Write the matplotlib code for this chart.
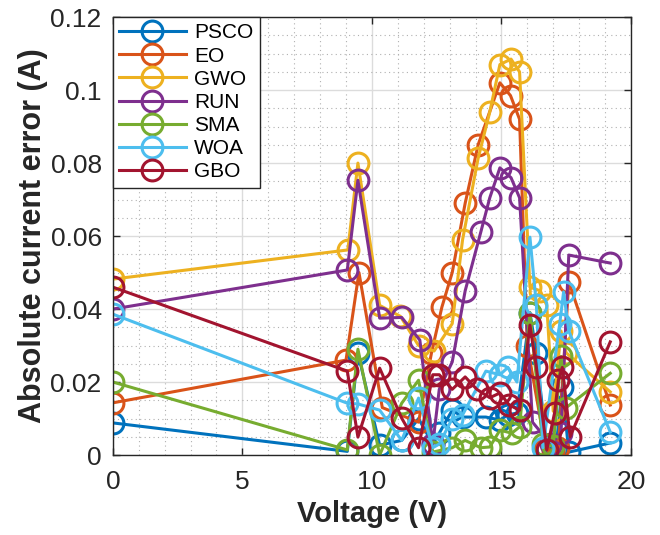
import matplotlib.pyplot as plt
from matplotlib.ticker import MultipleLocator, FuncFormatter

plt.rcParams['font.family'] = ['Liberation Sans', 'DejaVu Sans']

names = ["PSCO", "EO", "GWO", "RUN", "SMA", "WOA", "GBO"]
colors = ["#0072BD", "#D95319", "#EDB120", "#7E2F8E", "#77AC30", "#4DBEEE", "#A2142F"]

psco_v = [0, 9.05, 9.46, 10.3, 11.15, 11.8, 12.35, 12.6, 13.1, 13.5, 14.4, 14.94, 15.25, 15.6, 16.1, 16.35, 16.75, 17.1, 17.35, 17.6, 19.2]
psco_e = [0.0088, 0.001, 0.028, 0.0027, 0.004, 0.010, 0.003, 0.006, 0.0123, 0.0104, 0.0104, 0.0096, 0.011, 0.0115, 0.039, 0.028, 0.002, 0.0015, 0.0186, 0.0008, 0.0033]

eo_v = [0, 9.0, 9.5, 10.4, 11.8, 12.3, 12.7, 13.1, 13.6, 14.1, 14.94, 15.35, 15.7, 16.0, 16.7, 17.0, 17.2, 17.6, 19.2]
eo_e = [0.0143, 0.026, 0.050, 0.013, 0.009, 0.028, 0.0405, 0.050, 0.069, 0.085, 0.102, 0.0985, 0.092, 0.030, 0.002, 0.001, 0.002, 0.0475, 0.0137]

gwo_v = [0, 9.07, 9.46, 10.3, 11.1, 11.8, 12.4, 13.1, 13.5, 14.1, 14.55, 14.94, 15.37, 15.7, 16.1, 16.5, 16.75, 17.0, 17.3, 17.5, 19.2]
gwo_e = [0.0482, 0.0562, 0.080, 0.041, 0.038, 0.030, 0.0285, 0.036, 0.059, 0.0813, 0.094, 0.107, 0.1085, 0.105, 0.046, 0.045, 0.041, 0.012, 0.034, 0.028, 0.0173]

run_v = [0, 9.05, 9.46, 10.3, 11.15, 11.85, 12.35, 12.6, 13.1, 13.6, 14.2, 14.55, 14.94, 15.37, 15.7, 16.2, 16.9, 17.3, 17.6, 19.2]
run_e = [0.040, 0.0507, 0.0753, 0.0375, 0.0377, 0.0315, 0.003, 0.018, 0.0255, 0.045, 0.061, 0.0705, 0.0787, 0.076, 0.0705, 0.009, 0.003, 0.006, 0.0548, 0.0526]

sma_v = [0, 9.05, 9.46, 10.3, 11.15, 11.8, 12.35, 13.1, 13.6, 14.2, 14.55, 14.94, 15.4, 15.7, 16.1, 16.6, 17.0, 17.3, 17.5, 19.2]
sma_e = [0.020, 0.0014, 0.029, 0.000, 0.0142, 0.0205, 0.0008, 0.002, 0.004, 0.002, 0.0022, 0.0068, 0.006, 0.0077, 0.039, 0.003, 0.0025, 0.027, 0.013, 0.0224]

woa_v = [0, 9.05, 9.46, 10.3, 11.15, 11.8, 12.35, 12.6, 13.1, 13.5, 14.4, 14.94, 15.25, 15.6, 16.1, 16.35, 16.6, 17.25, 17.4, 17.6, 19.2]
woa_e = [0.0386, 0.0142, 0.014, 0.0123, 0.004, 0.0156, 0.002, 0.003, 0.010, 0.011, 0.023, 0.022, 0.024, 0.020, 0.0597, 0.041, 0.002, 0.036, 0.0447, 0.034, 0.0063]

gbo_v = [0, 9.05, 9.46, 10.3, 11.15, 11.8, 12.35, 12.6, 13.1, 13.6, 14.05, 14.55, 14.94, 15.3, 15.7, 16.1, 16.35, 16.75, 17.05, 17.2, 17.35, 17.65, 19.2]
gbo_e = [0.046, 0.023, 0.0049, 0.0238, 0.0101, 0.002, 0.022, 0.022, 0.018, 0.0214, 0.018, 0.0157, 0.017, 0.0137, 0.0123, 0.0356, 0.024, 0.0014, 0.0115, 0.0205, 0.024, 0.005, 0.031]

series = [(psco_v, psco_e), (eo_v, eo_e), (gwo_v, gwo_e), (run_v, run_e),
          (sma_v, sma_e), (woa_v, woa_e), (gbo_v, gbo_e)]

fig = plt.figure(figsize=(6.6, 5.35), dpi=100)
ax = fig.add_axes([0.171, 0.1495, 0.785, 0.8185])

for (v, e), name, c in zip(series, names, colors):
    ax.plot(v, e, '-o', color=c, lw=2.2, markersize=15, markerfacecolor='none',
            markeredgewidth=2.2, label=name)

ax.set_xlim(0, 20)
ax.set_ylim(0, 0.12)
ax.xaxis.set_major_locator(MultipleLocator(5))
ax.xaxis.set_minor_locator(MultipleLocator(1))
ax.yaxis.set_major_locator(MultipleLocator(0.02))
ax.yaxis.set_minor_locator(MultipleLocator(0.005))
ax.yaxis.set_major_formatter(FuncFormatter(lambda y, p: '%g' % round(y, 4)))

ax.grid(True, which='major', color='#dcdcdc', lw=1.0)
ax.grid(True, which='minor', color='#b0b0b0', lw=0.8, linestyle=(0, (1, 3)))
ax.set_axisbelow(True)
ax.tick_params(which='both', direction='in', top=True, right=True, labelsize=19, colors='#262626')
ax.tick_params(axis='x', which='major', pad=11)
ax.tick_params(axis='y', which='major', pad=8)
ax.tick_params(which='major', length=5, width=1.0)
ax.tick_params(which='minor', length=0)
for s in ax.spines.values():
    s.set_color('#262626')
    s.set_linewidth(1.0)

ax.set_xlabel('Voltage (V)', fontsize=21, fontweight='bold', color='#262626', labelpad=4)
ax.set_ylabel('Absolute current error (A)', fontsize=22, fontweight='bold', color='#262626', labelpad=2)

leg = ax.legend(loc='upper left', fontsize=15, handlelength=3.2, borderaxespad=0.0,
                labelspacing=0.2, handletextpad=0.4, borderpad=0.3, fancybox=False,
                framealpha=1, edgecolor='#262626')
leg.get_frame().set_linewidth(1.0)

fig.savefig('out.png', dpi=100)
